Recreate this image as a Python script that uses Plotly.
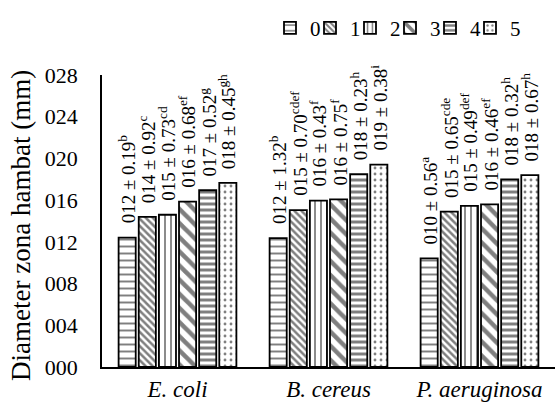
import plotly.graph_objects as go

# Bacteria tested (x categories)
bacteria = ["E. coli", "B. cereus", "P. aeruginosa"]
bacteria_labels = ["<i>E. coli</i>", "<i>B. cereus</i>", "<i>P. aeruginosa</i>"]

# Treatment groups (legend entries)
treatments = ["0", "1", "2", "3", "4", "5"]

# Mean inhibition zone diameter (mm), one list per treatment: [E. coli, B. cereus, P. aeruginosa]
mean_0 = [12.4, 12.35, 10.42]
mean_1 = [14.4, 15.05, 14.9]
mean_2 = [14.6, 15.95, 15.45]
mean_3 = [15.85, 16.08, 15.6]
mean_4 = [16.95, 18.5, 18.0]
mean_5 = [17.65, 19.4, 18.4]

# Standard deviations
sd_0 = [0.19, 1.32, 0.56]
sd_1 = [0.92, 0.70, 0.65]
sd_2 = [0.73, 0.43, 0.49]
sd_3 = [0.68, 0.75, 0.46]
sd_4 = [0.52, 0.23, 0.32]
sd_5 = [0.45, 0.38, 0.67]

# Significance letters
sig_0 = ["b", "b", "a"]
sig_1 = ["c", "cdef", "cde"]
sig_2 = ["cd", "f", "def"]
sig_3 = ["ef", "f", "ef"]
sig_4 = ["g", "h", "h"]
sig_5 = ["gh", "i", "h"]

# Y-axis ticks
y_ticks = [0, 4, 8, 12, 16, 20, 24, 28]

means = [mean_0, mean_1, mean_2, mean_3, mean_4, mean_5]
sds = [sd_0, sd_1, sd_2, sd_3, sd_4, sd_5]
sigs = [sig_0, sig_1, sig_2, sig_3, sig_4, sig_5]

# Fill pattern per treatment: (shape, size, solidity)
patterns = [
    ("-", 7, 0.28),
    ("\\", 5, 0.5),
    ("|", 6, 0.3),
    ("\\", 10, 0.45),
    ("-", 6, 0.5),
    (".", 6, 0.18),
]

FONT = "Liberation Serif"
BARGAP = 0.2
n = len(treatments)

# Compact legend row: each entry gets its own legend box, placed at a fixed pitch
LEGEND_X0 = 270          # px from the left edge of the figure
LEGEND_PITCH = 40        # px between entries
PLOT_LEFT, PLOT_W = 102, 453
legend_ids = ["legend"] + [f"legend{j + 1}" for j in range(1, n)]

fig = go.Figure()
for i, name in enumerate(treatments):
    shape, size, solidity = patterns[i]
    fig.add_trace(go.Bar(
        name=name,
        x=bacteria,
        y=means[i],
        legend=legend_ids[i],
        marker=dict(
            color="white",
            line=dict(color="black", width=1.8),
            pattern=dict(shape=shape, size=size, solidity=solidity,
                         fgcolor="black", bgcolor="white", fillmode="overlay"),
        ),
    ))

# Rotated value labels above each bar
slot = (1 - BARGAP) / n
annotations = []
for i in range(n):
    for k in range(len(bacteria)):
        v = means[i][k]
        text = f"{v:03.0f} ± {sds[i][k]:.2f}<sup>{sigs[i][k]}</sup>"
        annotations.append(dict(
            x=k - (1 - BARGAP) / 2 + (i + 0.5) * slot,
            y=v,
            xref="x", yref="y",
            text=text,
            textangle=-90,
            showarrow=False,
            xanchor="center", yanchor="bottom",
            yshift=12,
            font=dict(family=FONT, size=19, color="black"),
        ))

# Y-axis title
annotations.append(dict(
    x=-81 / PLOT_W, y=0.483, xref="paper", yref="paper",
    text="Diameter zona hambat (mm)", textangle=-90, showarrow=False,
    xanchor="center", yanchor="middle",
    font=dict(family=FONT, size=27, color="black"),
))

legend_common = dict(
    orientation="h", xanchor="left", y=1.16, yanchor="middle",
    xref="paper", font=dict(family=FONT, size=21, color="black"),
    itemclick=False, bgcolor="rgba(0,0,0,0)",
)
legend_layout = {
    lid: dict(x=(LEGEND_X0 + j * LEGEND_PITCH - PLOT_LEFT) / PLOT_W, **legend_common)
    for j, lid in enumerate(legend_ids)
}

fig.update_layout(
    width=557, height=406,
    margin=dict(l=PLOT_LEFT, r=2, t=75, b=39),
    paper_bgcolor="white", plot_bgcolor="white",
    barmode="group", bargap=BARGAP, bargroupgap=0.15,
    font=dict(family=FONT, size=20, color="black"),
    showlegend=True,
    annotations=annotations,
    xaxis=dict(
        type="category",
        tickvals=bacteria, ticktext=bacteria_labels,
        showline=True, linecolor="black", linewidth=1.8,
        ticks="", showgrid=False, zeroline=False,
        tickfont=dict(family=FONT, size=23, color="black"),
    ),
    yaxis=dict(
        range=[0, 28], tickvals=y_ticks, tickformat="03d",
        showline=True, linecolor="black", linewidth=1.8,
        ticks="outside", ticklen=18, tickcolor="rgba(0,0,0,0)",
        showgrid=False, zeroline=False,
        tickfont=dict(family=FONT, size=22, color="black"),
    ),
    **legend_layout,
)

fig.write_html("out.html")
